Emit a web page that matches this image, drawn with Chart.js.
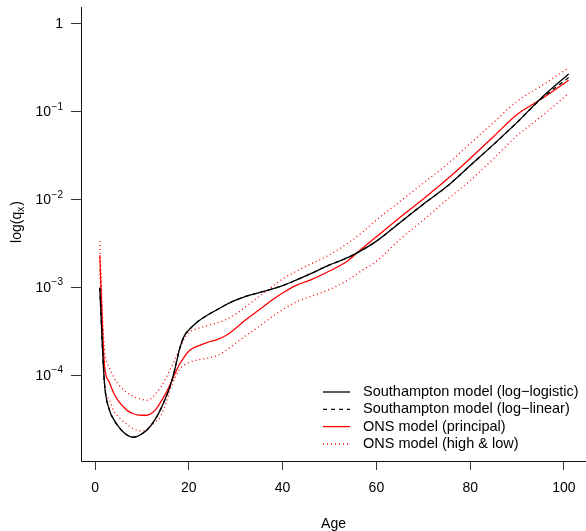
<!DOCTYPE html>
<html>
<head>
<meta charset="utf-8">
<script src="https://cdn.jsdelivr.net/npm/chart.js@4/dist/chart.umd.min.js"></script>
<style>
  html, body { margin: 0; padding: 0; background: #fff; }
  #wrap { width: 586px; height: 531px; }
</style>
</head>
<body>
<div id="wrap"><canvas id="myCanvas"></canvas></div>
<script>
// ages and log10(q_x)
const ages = [1, 2, 3, 4, 5, 6, 7, 8, 9, 10, 11, 12, 13, 14, 15, 16, 17, 18, 19, 20,
  22, 24, 26, 28, 30, 32, 35, 38, 40, 43, 46, 50, 54, 57, 60, 65, 70, 75, 80, 85, 90, 95, 101];

const logLogistic = [-3.00, -4.08, -4.38, -4.50, -4.58, -4.64, -4.68, -4.70, -4.69, -4.66, -4.62, -4.56, -4.48, -4.38, -4.26, -4.12, -3.93, -3.70, -3.55, -3.48,
  -3.38, -3.31, -3.25, -3.19, -3.14, -3.10, -3.055, -3.01, -2.975, -2.91, -2.84, -2.74, -2.655, -2.57, -2.47, -2.26, -2.05, -1.85, -1.61, -1.37, -1.12, -0.85, -0.57];

const logLinear = [-3.00, -4.08, -4.38, -4.50, -4.58, -4.64, -4.68, -4.70, -4.69, -4.66, -4.62, -4.56, -4.48, -4.38, -4.26, -4.12, -3.93, -3.70, -3.55, -3.48,
  -3.38, -3.31, -3.25, -3.19, -3.14, -3.10, -3.055, -3.01, -2.975, -2.91, -2.84, -2.74, -2.655, -2.57, -2.47, -2.26, -2.05, -1.85, -1.61, -1.37, -1.12, -0.86, -0.61];

const onsPrincipal = [-2.63, -3.88, -4.07, -4.20, -4.29, -4.35, -4.40, -4.43, -4.445, -4.45, -4.45, -4.43, -4.38, -4.30, -4.21, -4.10, -3.98, -3.87, -3.79, -3.72,
  -3.66, -3.62, -3.59, -3.54, -3.46, -3.37, -3.25, -3.13, -3.06, -2.97, -2.91, -2.81, -2.69, -2.55, -2.42, -2.20, -1.99, -1.77, -1.53, -1.28, -1.03, -0.86, -0.64];

const onsHigh = [-2.47, -3.70, -3.90, -4.02, -4.10, -4.16, -4.20, -4.23, -4.255, -4.27, -4.28, -4.26, -4.20, -4.13, -4.04, -3.93, -3.82, -3.70, -3.58, -3.51,
  -3.46, -3.43, -3.40, -3.36, -3.30, -3.22, -3.10, -2.98, -2.90, -2.81, -2.73, -2.625, -2.49, -2.37, -2.23, -2.02, -1.81, -1.60, -1.36, -1.12, -0.88, -0.71, -0.50];

const onsLow = [-2.80, -4.10, -4.27, -4.40, -4.47, -4.52, -4.56, -4.60, -4.62, -4.63, -4.61, -4.57, -4.52, -4.46, -4.33, -4.17, -4.03, -3.93, -3.88, -3.85,
  -3.82, -3.80, -3.77, -3.71, -3.63, -3.55, -3.44, -3.32, -3.25, -3.16, -3.10, -3.02, -2.91, -2.80, -2.70, -2.45, -2.23, -2.00, -1.78, -1.53, -1.27, -1.06, -0.79];

const xTicks = [0, 20, 40, 60, 80, 100];
const yTicks = [-4, -3, -2, -1, 0];

const legendLabels = [
  "Southampton model (log\u2212logistic)",
  "Southampton model (log\u2212linear)",
  "ONS model (principal)",
  "ONS model (high & low)"
];

const FONT = "'Liberation Sans', Arial, Helvetica, sans-serif";

function pts(series) {
  return ages.map((a, i) => ({ x: a, y: series[i] }));
}

function line(label, series, color, dash) {
  return {
    label: label,
    data: pts(series),
    borderColor: color,
    backgroundColor: color,
    borderWidth: 1.3,
    borderDash: dash,
    pointRadius: 0,
    fill: false,
    cubicInterpolationMode: "monotone",
  };
}

// y tick labels (powers of ten), axis titles and the legend
const extras = {
  id: "extras",
  afterDraw(chart) {
    const ctx = chart.ctx;
    const ys = chart.scales.y;
    ctx.save();
    ctx.fillStyle = "#000";
    ctx.textBaseline = "middle";
    ctx.textAlign = "right";

    yTicks.forEach((v) => {
      const py = ys.getPixelForValue(v);
      if (v === 0) {
        ctx.font = "14px " + FONT;
        ctx.fillText("1", 63, py);
        return;
      }
      const sup = "\u2212" + (-v);
      ctx.font = "10px " + FONT;
      const sw = ctx.measureText(sup).width;
      ctx.fillText(sup, 63, py - 5);
      ctx.font = "14px " + FONT;
      ctx.fillText("10", 63 - sw - 0.5, py);
    });

    // x title
    ctx.textAlign = "center";
    ctx.font = "14px " + FONT;
    ctx.fillText("Age", (chart.chartArea.left + chart.chartArea.right) / 2, 524);

    // y title log(q_x)
    ctx.save();
    ctx.translate(17, 222);
    ctx.rotate(-Math.PI / 2);
    ctx.textAlign = "left";
    ctx.font = "14px " + FONT;
    const w1 = ctx.measureText("log(q").width;
    const w3 = ctx.measureText(")").width;
    ctx.font = "10px " + FONT;
    const w2 = ctx.measureText("x").width;
    let x0 = -(w1 + w2 + w3 + 1) / 2;
    ctx.font = "14px " + FONT;
    ctx.fillText("log(q", x0, 0);
    ctx.font = "10px " + FONT;
    ctx.fillText("x", x0 + w1, 4);
    ctx.font = "14px " + FONT;
    ctx.fillText(")", x0 + w1 + w2 + 1, 0);
    ctx.restore();

    // legend
    const sets = chart.data.datasets;
    const rows = [392, 409.3, 426.6, 444];
    rows.forEach((y, r) => {
      const ds = sets[r];
      ctx.beginPath();
      ctx.strokeStyle = ds.borderColor;
      ctx.lineWidth = 1.3;
      ctx.setLineDash(ds.borderDash || []);
      ctx.moveTo(323, y);
      ctx.lineTo(350, y);
      ctx.stroke();
      ctx.setLineDash([]);
      ctx.textAlign = "left";
      ctx.font = "14.5px " + FONT;
      ctx.fillStyle = "#000";
      ctx.fillText(legendLabels[r], 363, y);
    });
    ctx.restore();
  },
};

const dsSolid = line(legendLabels[0], logLogistic, "#000000", []);
const dsDashed = line(legendLabels[1], logLinear, "#000000", [4, 4]);
const dsRed = line(legendLabels[2], onsPrincipal, "#ff0000", []);
const dsHigh = line(legendLabels[3], onsHigh, "#ff0000", [1, 3]);
const dsLow = line(legendLabels[3], onsLow, "#ff0000", [1, 3]);

new Chart(document.getElementById("myCanvas").getContext("2d"), {
  type: "line",
  data: { datasets: [dsSolid, dsDashed, dsRed, dsHigh, dsLow] },
  options: {
    responsive: true,
    maintainAspectRatio: false,
    animation: false,
    devicePixelRatio: 1,
    layout: { padding: { top: 7, right: 0, left: 0, bottom: 0 } },
    plugins: { legend: { display: false }, tooltip: { enabled: false }, title: { display: false } },
    scales: {
      x: {
        type: "linear",
        min: -3,
        max: 104.7,
        afterBuildTicks: (s) => { s.ticks = xTicks.map((v) => ({ value: v })); },
        afterFit: (s) => { s.height = 70; },
        grid: { drawOnChartArea: false, drawTicks: true, tickLength: 9, color: "#333" },
        border: { display: true, color: "#111", width: 1 },
        ticks: { font: { size: 14, family: FONT }, color: "#000", padding: 10, maxRotation: 0 },
      },
      y: {
        type: "linear",
        min: -4.97,
        max: 0.19,
        afterBuildTicks: (s) => { s.ticks = yTicks.map((v) => ({ value: v })); },
        afterFit: (s) => { s.width = 81; },
        grid: { drawOnChartArea: false, drawTicks: true, tickLength: 10, color: "#333" },
        border: { display: true, color: "#111", width: 1 },
        ticks: { callback: () => "", padding: 0 },
      },
    },
  },
  plugins: [extras],
});
</script>
</body>
</html>
